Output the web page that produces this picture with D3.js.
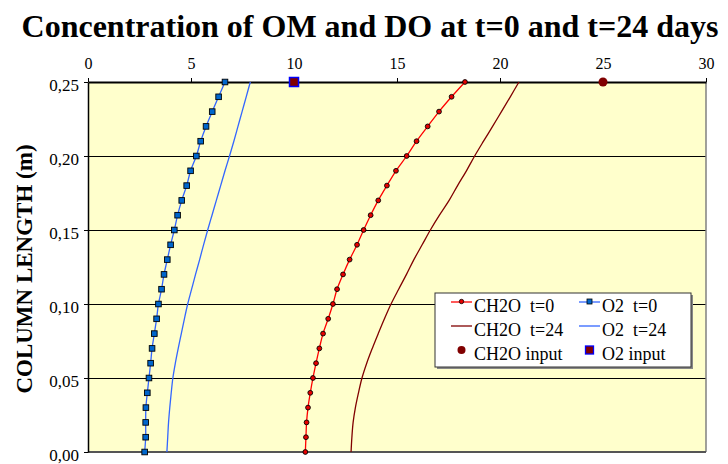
<!DOCTYPE html>
<html>
<head>
<meta charset="utf-8">
<script src="https://cdn.jsdelivr.net/npm/d3@7"></script>
<style>
  html, body { margin: 0; padding: 0; background: #ffffff; }
  svg { display: block; }
  svg text { font-family: "Liberation Serif", "Times New Roman", serif; }
</style>
</head>
<body>
<svg id="chart" width="728" height="464"></svg>
<script>
// Depth along the column (m), one sample every centimetre
const depths = d3.range(0, 26).map(i => i / 100);

// Concentrations (mg/L) at each depth, bottom (0.00) to top (0.25)
const ch2oT0  = [10.55, 10.58, 10.61, 10.68, 10.79, 10.92, 11.07, 11.23, 11.41, 11.66, 11.89,
                 12.09, 12.38, 12.70, 13.06, 13.38, 13.72, 14.09, 14.51, 14.95, 15.47, 15.95,
                 16.49, 17.04, 17.65, 18.30];
const ch2oT24 = [12.77, 12.81, 12.87, 12.98, 13.13, 13.30, 13.53, 13.80, 14.09, 14.39, 14.71,
                 15.08, 15.46, 15.82, 16.22, 16.62, 17.06, 17.53, 17.94, 18.37, 18.77, 19.20,
                 19.64, 20.07, 20.50, 20.92];
const o2T0    = [2.75, 2.80, 2.80, 2.81, 2.88, 2.96, 3.04, 3.11, 3.22, 3.33, 3.42, 3.57, 3.69,
                 3.85, 4.01, 4.19, 4.35, 4.55, 4.79, 4.98, 5.26, 5.47, 5.73, 6.03, 6.34, 6.65];
const o2T24   = [3.83, 3.87, 3.91, 3.97, 4.04, 4.12, 4.24, 4.38, 4.53, 4.68, 4.84, 5.03, 5.22,
                 5.42, 5.61, 5.81, 6.02, 6.23, 6.44, 6.65, 6.87, 7.08, 7.28, 7.48, 7.68, 7.88];

// Inlet concentrations at the top of the column
const ch2oInput = [{ c: 25, z: 0.25 }];
const o2Input   = [{ c: 10, z: 0.25 }];

const xTicks = [0, 5, 10, 15, 20, 25, 30];
const yTicks = [0, 0.05, 0.10, 0.15, 0.20, 0.25];

const title  = "Concentration of OM and DO at t=0 and t=24 days";
const yTitle = "COLUMN LENGTH (m)";

const legendItems = [
  { label: "CH2O\u00a0\u00a0t=0",  color: "#ff0000", marker: "circle", line: true },
  { label: "O2\u00a0\u00a0t=0",    color: "#3366ff", marker: "square", line: true },
  { label: "CH2O\u00a0\u00a0t=24", color: "#800000", marker: null, line: true },
  { label: "O2\u00a0\u00a0t=24",   color: "#3366ff", marker: null, line: true },
  { label: "CH2O input", color: "#800000", marker: "dot", line: false },
  { label: "O2 input",   color: "#800000", marker: "box", line: false }
];

const svg = d3.select("#chart");
const plot = { left: 88, right: 706, top: 82, bottom: 452 };
const serif = "'Liberation Serif', 'Times New Roman', serif";

const x = d3.scaleLinear().domain([0, 30]).range([plot.left, plot.right]);
const y = d3.scaleLinear().domain([0, 0.25]).range([plot.bottom, plot.top]);

// Title
svg.append("text")
  .attr("x", 370).attr("y", 37)
  .attr("text-anchor", "middle")
  .style("font-family", serif)
  .attr("font-size", 32).attr("font-weight", "bold")
  .text(title);

// Plot background
svg.append("rect")
  .attr("x", plot.left).attr("y", plot.top)
  .attr("width", plot.right - plot.left).attr("height", plot.bottom - plot.top)
  .attr("fill", "#ffffcc");

// Horizontal gridlines
svg.append("g").selectAll("line").data(yTicks.slice(1, -1)).join("line")
  .attr("x1", plot.left).attr("x2", plot.right)
  .attr("y1", d => Math.round(y(d)) + 0.5).attr("y2", d => Math.round(y(d)) + 0.5)
  .attr("stroke", "#000").attr("stroke-width", 1);

// Frame: right and bottom edges in grey
svg.append("line").attr("x1", plot.right).attr("x2", plot.right)
  .attr("y1", plot.top).attr("y2", plot.bottom)
  .attr("stroke", "#808080").attr("stroke-width", 1.5);
svg.append("line").attr("x1", plot.left).attr("x2", plot.right)
  .attr("y1", plot.bottom).attr("y2", plot.bottom)
  .attr("stroke", "#555").attr("stroke-width", 2);

// Top axis
const gx = svg.append("g")
  .attr("transform", `translate(0,${plot.top})`)
  .call(d3.axisTop(x).tickValues(xTicks).tickSize(4).tickSizeOuter(0).tickPadding(9))
  .attr("font-family", null).attr("font-size", null);
gx.select(".domain").attr("stroke", "#000").attr("stroke-width", 2);
gx.selectAll("text").style("font-family", serif).style("font-size", "16px").attr("fill", "#000");

// Left axis
const fmt = d => d3.format(".2f")(d).replace(".", ",");
const gy = svg.append("g")
  .attr("transform", `translate(${plot.left},0)`)
  .call(d3.axisLeft(y).tickValues(yTicks).tickFormat(fmt).tickSize(4).tickSizeOuter(0).tickPadding(5))
  .attr("font-family", null).attr("font-size", null);
gy.select(".domain").attr("stroke", "#000").attr("stroke-width", 1.5);
gy.selectAll("text").style("font-family", serif).style("font-size", "17px").attr("fill", "#000")
  .attr("dy", "0.5em");

// Y-axis title
svg.append("text")
  .attr("transform", "translate(32,269) rotate(-90)")
  .attr("text-anchor", "middle")
  .style("font-family", serif)
  .attr("font-size", 23).attr("font-weight", "bold")
  .text(yTitle);

// Profiles
const line = vals => d3.line()
  .x((d, i) => x(vals[i]))
  .y(d => y(d))
  .curve(d3.curveCatmullRom.alpha(0.5))(depths);

const series = [
  { vals: ch2oT24, color: "#800000" },
  { vals: o2T24,   color: "#3366ff" },
  { vals: ch2oT0,  color: "#ff0000" },
  { vals: o2T0,    color: "#3366ff" }
];
svg.append("g").selectAll("path").data(series).join("path")
  .attr("d", s => line(s.vals))
  .attr("fill", "none")
  .attr("stroke", s => s.color)
  .attr("stroke-width", 1.3);

// Markers for the t=0 profiles
svg.append("g").selectAll("circle").data(depths).join("circle")
  .attr("cx", (d, i) => x(ch2oT0[i])).attr("cy", d => y(d))
  .attr("r", 2.4)
  .attr("fill", "#e60000").attr("stroke", "#000").attr("stroke-width", 0.9);

svg.append("g").selectAll("rect").data(depths).join("rect")
  .attr("x", (d, i) => x(o2T0[i]) - 2.8).attr("y", d => y(d) - 2.8)
  .attr("width", 5.6).attr("height", 5.6)
  .attr("fill", "#0066cc").attr("stroke", "#000").attr("stroke-width", 0.9);

// Inlet concentrations
svg.append("g").selectAll("circle").data(ch2oInput).join("circle")
  .attr("cx", d => x(d.c)).attr("cy", d => y(d.z))
  .attr("r", 4.5).attr("fill", "#800000");

svg.append("g").selectAll("rect").data(o2Input).join("rect")
  .attr("x", d => x(d.c) - 4.5).attr("y", d => y(d.z) - 4.5)
  .attr("width", 9).attr("height", 9)
  .attr("fill", "#800000").attr("stroke", "#0000ff").attr("stroke-width", 1.5);

// Legend
const lg = svg.append("g").attr("transform", "translate(435,293)");
lg.append("rect").attr("x", 2).attr("y", 2).attr("width", 256).attr("height", 74).attr("fill", "#888");
lg.append("rect").attr("width", 256).attr("height", 74)
  .attr("fill", "#fff").attr("stroke", "#333").attr("stroke-width", 1);

legendItems.forEach((it, k) => {
  const col = k % 2, row = Math.floor(k / 2);
  const sx = col === 0 ? 16 : 144;
  const cy = 9 + row * 24;
  const g = lg.append("g");
  if (it.line) {
    g.append("line").attr("x1", sx).attr("x2", sx + 21).attr("y1", cy).attr("y2", cy)
      .attr("stroke", it.color).attr("stroke-width", 1.3);
  }
  if (it.marker === "circle") {
    g.append("circle").attr("cx", sx + 10.5).attr("cy", cy - 0.5).attr("r", 2.2)
      .attr("fill", "#e60000").attr("stroke", "#000").attr("stroke-width", 0.8);
  } else if (it.marker === "square") {
    g.append("rect").attr("x", sx + 8).attr("y", cy - 3).attr("width", 5).attr("height", 5)
      .attr("fill", "#0066cc").attr("stroke", "#000").attr("stroke-width", 0.8);
  } else if (it.marker === "dot") {
    g.append("circle").attr("cx", sx + 10.5).attr("cy", cy).attr("r", 4).attr("fill", "#800000");
  } else if (it.marker === "box") {
    g.append("rect").attr("x", sx + 6.5).attr("y", cy - 4).attr("width", 8).attr("height", 8)
      .attr("fill", "#800000").attr("stroke", "#0000ff").attr("stroke-width", 1.3);
  }
  g.append("text").attr("x", sx + 23).attr("y", cy + 10)
    .style("font-family", serif)
    .attr("font-size", 18).attr("fill", "#000")
    .text(it.label);
});
</script>
</body>
</html>
